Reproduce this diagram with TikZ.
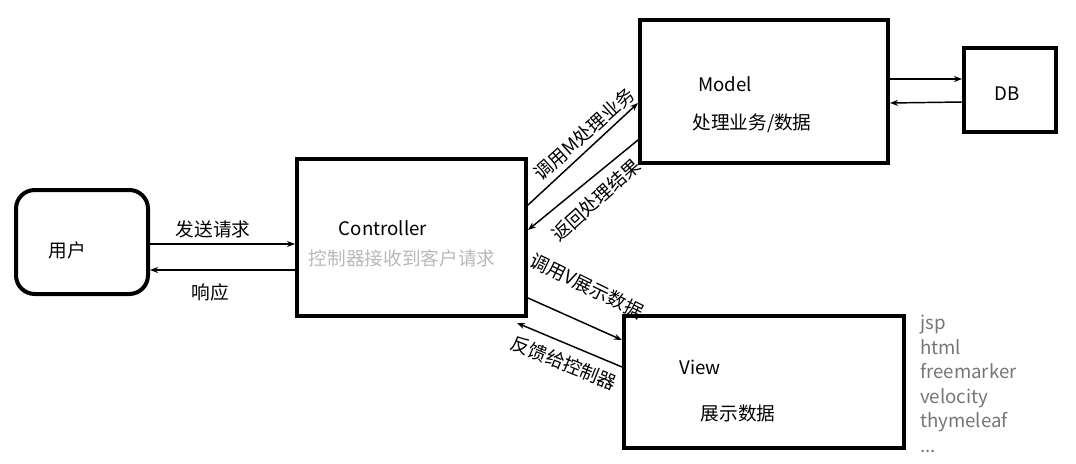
\documentclass[tikz,border=0pt]{standalone}
\usepackage{fontspec}
\setmainfont{Noto Sans CJK SC}
\usetikzlibrary{arrows.meta}
\definecolor{listgray}{RGB}{118,118,118}
\definecolor{subgray}{RGB}{185,185,185}
\begin{document}
\begin{tikzpicture}[x=0.75pt,y=-0.75pt,
  box/.style={draw, line width=3pt, inner sep=0pt},
  txt/.style={font=\fontsize{14}{16}\selectfont, inner sep=0pt},
  arr/.style={line width=1.1pt, -{Stealth[length=6pt,width=4.5pt]}}]
\useasboundingbox (0,0) rectangle (1076,464);
% boxes
\node[box, rounded corners=14pt, minimum width=99pt, minimum height=78pt] (user) at (82,242) {};
\node[box, minimum width=171.75pt, minimum height=117.75pt] (ctrl) at (411.5,237.5) {};
\node[box, minimum width=186pt, minimum height=107.25pt] (model) at (764,91.5) {};
\node[box, minimum width=69pt, minimum height=63pt] (db) at (1010,90) {};
\node[box, minimum width=210pt, minimum height=99pt] (view) at (764,382) {};
% texts in boxes
\node[txt] (tuser) at (67,250) {用户};
\node[txt] (tctrl) at (383,228) {Controller};
\node[txt, text=subgray] (tctrl2) at (402,258) {控制器接收到客户请求};
\node[txt] (tmodel) at (725,84) {Model};
\node[txt] (tmodel2) at (752,123) {处理业务/数据};
\node[txt] (tdb) at (1007,94) {DB};
\node[txt] (tview) at (700,367) {View};
\node[txt] (tview2) at (738,413) {展示数据};
\node[txt, text=listgray, anchor=north west, align=left,
  font=\fontsize{14}{18.4}\selectfont] (list) at (920,315)
  {jsp\\html\\freemarker\\velocity\\thymeleaf\\...};
% arrows
\draw[arr] (user.east |- 0,244) -- (ctrl.west |- 0,244);
\draw[arr] (ctrl.west |- 0,270) -- (user.east |- 0,270);
\draw[arr] (ctrl.east |- 0,205) -- (model.west |- 0,103);
\draw[arr] (model.west |- 0,140) -- (ctrl.east |- 0,230);
\draw[arr] (ctrl.east |- 0,298) -- (view.west |- 0,340);
\draw[arr] (view.west |- 0,367) -- (517,323);
\draw[arr] (model.east |- 0,79) -- (db.west |- 0,79);
\draw[arr] (db.west |- 0,102) -- (model.east |- 0,103);
% connector labels
\node[txt] (l1) at (213,229) {发送请求};
\node[txt] (l2) at (210,292) {响应};
\node[txt, rotate=42] (l3) at (584,134) {调用M处理业务};
\node[txt, rotate=42] (l4) at (596,200) {返回处理结果};
\node[txt, rotate=-26] (l5) at (587,286) {调用V展示数据};
\node[txt, rotate=-22] (l6) at (564,363) {反馈给控制器};
\end{tikzpicture}
\end{document}
